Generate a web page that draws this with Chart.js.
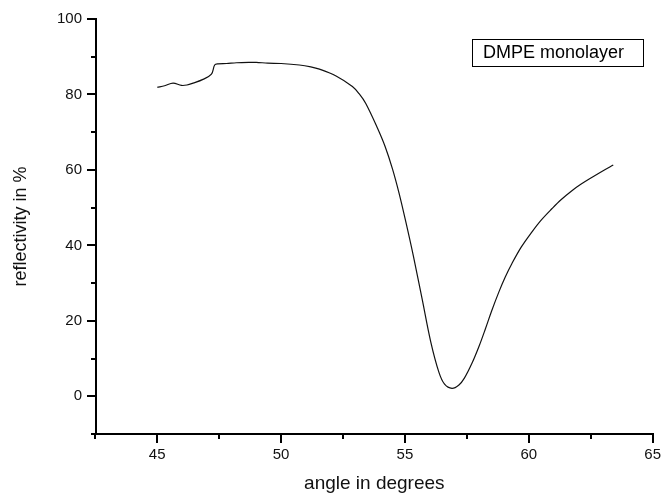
<!DOCTYPE html>
<html>
<head>
<meta charset="utf-8">
<script src="https://cdn.jsdelivr.net/npm/chart.js@4/dist/chart.umd.min.js"></script>
<style>
  html, body { margin: 0; padding: 0; background: #fff; }
  #wrap { width: 664px; height: 499px; position: relative; }
</style>
</head>
<body>
<div id="wrap"><canvas id="spr"></canvas></div>
<script>
// SPR scan of a DMPE monolayer
const angles = [45.0, 45.3, 45.64, 45.98, 46.2, 46.45, 46.85, 47.19, 47.32, 47.45,
  47.8, 48.2, 48.73, 49.0, 49.46, 50.0, 50.74, 51.2, 51.55, 52.22,
  52.88, 53.15, 53.42, 53.89, 54.2, 54.5, 54.76, 55.03, 55.34, 55.7, 56.04,
  56.37, 56.6, 56.9, 57.18, 57.4, 57.71, 58.0, 58.25, 58.5,
  58.79, 59.05, 59.32, 59.7, 60.13, 60.5, 60.93, 61.3, 61.74, 62.1, 62.54,
  63.0, 63.41];
const reflectivity = [81.9, 82.3, 83.0, 82.4, 82.5, 83.0, 84.0, 85.4, 87.8, 88.1,
  88.2, 88.4, 88.5, 88.5, 88.3, 88.2, 87.8, 87.3, 86.7, 84.9,
  82.1, 80.2, 77.6, 71.1, 66.2, 60.2, 53.9, 46.4, 37.2, 25.6, 14.5,
  6.4, 3.2, 2.1, 3.0, 4.8, 8.8, 13.4, 17.9, 22.6,
  27.6, 31.6, 35.2, 39.6, 43.6, 46.7, 49.7, 52.1, 54.5, 56.2, 58.0,
  59.8, 61.3];

const xMajor = [45, 50, 55, 60, 65];
const xMinor = [42.5, 47.5, 52.5, 57.5, 62.5];
const yMajor = [0, 20, 40, 60, 80, 100];
const yMinor = [-10, 10, 30, 50, 70, 90];
const seriesName = "DMPE monolayer";

const font = "Liberation Sans, Arial, sans-serif";

// short outward ticks between the labelled ones
const minorTicks = {
  id: "minorTicks",
  afterDraw(chart) {
    const { ctx, chartArea, scales } = chart;
    ctx.save();
    ctx.strokeStyle = "#000";
    ctx.lineWidth = 2;
    ctx.beginPath();
    xMinor.forEach(v => {
      const px = Math.round(scales.x.getPixelForValue(v));
      ctx.moveTo(px, chartArea.bottom);
      ctx.lineTo(px, chartArea.bottom + 5);
    });
    yMinor.forEach(v => {
      const py = Math.round(scales.y.getPixelForValue(v));
      ctx.moveTo(chartArea.left, py);
      ctx.lineTo(chartArea.left - 5, py);
    });
    ctx.stroke();
    ctx.restore();
  }
};

// boxed series label, top right
const seriesBox = {
  id: "seriesBox",
  afterDraw(chart) {
    const { ctx } = chart;
    ctx.save();
    ctx.strokeStyle = "#000";
    ctx.lineWidth = 1;
    ctx.strokeRect(472.5, 39.5, 171, 27);
    ctx.fillStyle = "#000";
    ctx.font = "18px " + font;
    ctx.textBaseline = "middle";
    ctx.fillText(seriesName, 483, 53.5);
    ctx.restore();
  }
};

new Chart(document.getElementById("spr"), {
  type: "line",
  data: {
    datasets: [{
      label: seriesName,
      data: angles.map((a, i) => ({ x: a, y: reflectivity[i] })),
      borderColor: "#111",
      borderWidth: 1.2,
      pointRadius: 0,
      tension: 0.35,
      fill: false
    }]
  },
  options: {
    responsive: true,
    maintainAspectRatio: false,
    animation: false,
    layout: { padding: { top: 19, right: 10, left: 0, bottom: 0 } },
    plugins: {
      legend: { display: false },
      tooltip: { enabled: false }
    },
    scales: {
      x: {
        type: "linear",
        min: 42.53,
        max: 65,
        afterBuildTicks: s => { s.ticks = xMajor.map(v => ({ value: v })); },
        afterFit: s => { s.height = 65; },
        border: { display: true, color: "#000", width: 2 },
        grid: { drawOnChartArea: false, drawTicks: true, tickLength: 9, color: "#000", lineWidth: 2 },
        ticks: { color: "#111", font: { family: font, size: 15 }, padding: 3, maxRotation: 0 },
        title: {
          display: true,
          text: "angle in degrees",
          color: "#111",
          font: { family: font, size: 19 },
          padding: { top: 3 }
        }
      },
      y: {
        type: "linear",
        min: -10,
        max: 100,
        afterBuildTicks: s => { s.ticks = yMajor.map(v => ({ value: v })); },
        afterFit: s => { s.width = 96; },
        border: { display: true, color: "#000", width: 2 },
        grid: { drawOnChartArea: false, drawTicks: true, tickLength: 9, color: "#000", lineWidth: 2 },
        ticks: { color: "#111", font: { family: font, size: 15 }, padding: 5 },
        title: {
          display: true,
          text: "reflectivity in %",
          color: "#111",
          font: { family: font, size: 18 },
          padding: { top: 10, bottom: 4 }
        }
      }
    }
  },
  plugins: [minorTicks, seriesBox]
});
</script>
</body>
</html>
